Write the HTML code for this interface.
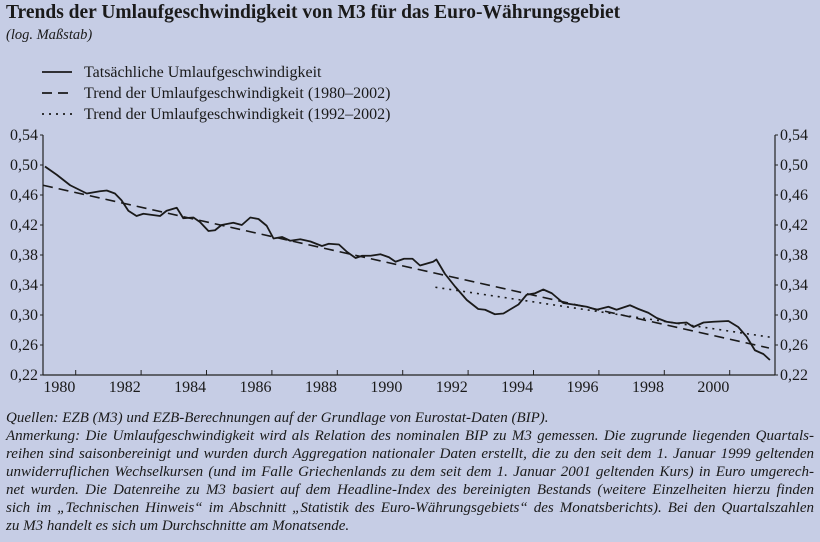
<!DOCTYPE html>
<html><head><meta charset="utf-8"><style>
body{margin:0;background:#c6cde5;}
#wrap{position:relative;width:820px;height:542px;background:#c6cde5;font-family:"Liberation Serif",serif;color:#1a1a1a;overflow:hidden}
.t{position:absolute;white-space:nowrap}
.fn{position:absolute;left:6px;width:808px;font-style:italic;font-size:15px;text-align:justify;text-align-last:justify;white-space:nowrap;line-height:17px}
.fn.l{text-align-last:left}
</style></head><body>
<div id="wrap">
<div class="t" style="left:6px;top:2px;font-size:19.5px;font-weight:bold">Trends der Umlaufgeschwindigkeit von M3 für das Euro-Währungsgebiet</div>
<div class="t" style="left:6px;top:27px;font-size:14.5px;font-style:italic">(log. Maßstab)</div>
<svg id="chart" width="820" height="410" style="position:absolute;left:0;top:0"></svg>
<div class="fn l" style="top:410px">Quellen: EZB (M3) und EZB-Berechnungen auf der Grundlage von Eurostat-Daten (BIP).</div>
<div class="fn" style="top:428px">Anmerkung: Die Umlaufgeschwindigkeit wird als Relation des nominalen BIP zu M3 gemessen. Die zugrunde liegenden Quartals-</div>
<div class="fn" style="top:446px">reihen sind saisonbereinigt und wurden durch Aggregation nationaler Daten erstellt, die zu den seit dem 1. Januar 1999 geltenden</div>
<div class="fn" style="top:464px">unwiderruflichen Wechselkursen (und im Falle Griechenlands zu dem seit dem 1. Januar 2001 geltenden Kurs) in Euro umgerech-</div>
<div class="fn" style="top:482px">net wurden. Die Datenreihe zu M3 basiert auf dem Headline-Index des bereinigten Bestands (weitere Einzelheiten hierzu finden</div>
<div class="fn" style="top:500px">sich im „Technischen Hinweis“ im Abschnitt „Statistik des Euro-Währungsgebiets“ des Monatsberichts). Bei den Quartalszahlen</div>
<div class="fn l" style="top:518px">zu M3 handelt es sich um Durchschnitte am Monatsende.</div>
</div>
<script>
const years=[1980,1982,1984,1986,1988,1990,1992,1994,1996,1998,2000];
const yTicks=[0.54,0.50,0.46,0.42,0.38,0.34,0.30,0.26,0.22];
const actualT=[1980.06,1980.42,1980.83,1981.34,1981.74,1981.95,1982.2,1982.4,1982.61,1982.86,1983.07,1983.58,1983.78,1984.09,1984.29,1984.6,1984.8,1985.06,1985.26,1985.46,1985.82,1986.08,1986.34,1986.59,1986.84,1987.05,1987.31,1987.56,1987.87,1988.18,1988.53,1988.74,1989.05,1989.3,1989.56,1989.76,1990.02,1990.32,1990.58,1990.78,1991.04,1991.3,1991.53,1991.93,1992.03,1992.29,1992.6,1992.96,1993.31,1993.52,1993.82,1994.08,1994.54,1994.79,1995.05,1995.3,1995.56,1995.91,1996.21,1996.63,1996.93,1997.29,1997.54,1997.95,1998.21,1998.51,1998.77,1999.07,1999.38,1999.68,1999.89,2000.2,2000.5,2000.96,2001.26,2001.52,2001.77,2002.03,2002.23];
const actualV=[0.498,0.487,0.473,0.462,0.465,0.466,0.462,0.453,0.439,0.432,0.435,0.432,0.439,0.443,0.429,0.430,0.424,0.412,0.413,0.420,0.423,0.420,0.430,0.428,0.419,0.402,0.404,0.399,0.401,0.398,0.392,0.395,0.394,0.384,0.376,0.379,0.379,0.381,0.377,0.371,0.375,0.375,0.366,0.371,0.374,0.355,0.338,0.320,0.308,0.307,0.301,0.302,0.314,0.327,0.329,0.334,0.329,0.316,0.314,0.311,0.307,0.311,0.307,0.313,0.308,0.303,0.296,0.291,0.289,0.290,0.284,0.290,0.291,0.292,0.284,0.271,0.253,0.248,0.240];
const trend1T=[1980.0,2002.2];
const trend1V=[0.473,0.256];
const trend2T=[1992.0,2002.3];
const trend2V=[0.337,0.270];
const legendLabels=["Tatsächliche Umlaufgeschwindigkeit","Trend der Umlaufgeschwindigkeit (1980–2002)","Trend der Umlaufgeschwindigkeit (1992–2002)"];

const NS="http://www.w3.org/2000/svg";
const svg=document.getElementById('chart');
const L=43,R=775,T=135,B=375;
const xS=t=>L+(t-1980)*32.7;
const yS=v=>T+(0.54-v)/(0.32)*(B-T);
function mk(tag,attrs,parent){const e=document.createElementNS(NS,tag);for(const k in attrs)e.setAttribute(k,attrs[k]);(parent||svg).appendChild(e);return e;}
const txtStyle='font-family:"Liberation Serif",serif;font-size:16px;fill:#1a1a1a';
let a=mk('line',{x1:L,y1:T,x2:L,y2:B,stroke:'#222','stroke-width':1.2});


a=mk('line',{x1:R,y1:T,x2:R,y2:B,stroke:'#222','stroke-width':1.2});


a=mk('line',{x1:L,y1:B,x2:R,y2:B,stroke:'#222','stroke-width':1.2});


yTicks.forEach(v=>{
  const y=yS(v);const lab=v.toFixed(2).replace('.',',');
  mk('line',{x1:L-3,y1:y,x2:L,y2:y,stroke:'#222'});
  mk('line',{x1:R,y1:y,x2:R+3,y2:y,stroke:'#222'});
  let t=mk('text',{x:L-5,y:y+5,'text-anchor':'end',style:txtStyle});t.textContent=lab;
  
  
  t=mk('text',{x:R+5,y:y+5,style:txtStyle});t.textContent=lab;
  
  
});
years.forEach(yr=>{
  const x=xS(yr+1);
  mk('line',{x1:x,y1:B,x2:x,y2:B-5,stroke:'#222'});
  const t=mk('text',{x:xS(yr+0.5),y:B+17,'text-anchor':'middle',style:txtStyle});t.textContent=yr;
  
  
});
function line(ts,vs,attrs,name){
  const p=mk('polyline',Object.assign({points:ts.map((t,i)=>xS(t)+','+yS(vs[i])).join(' '),fill:'none',stroke:'#1a1a1a'},attrs));
  
  
}
line(trend1T,trend1V,{'stroke-width':1.6,'stroke-dasharray':'10,6'},'trend-1980-2002-line');
line(trend2T,trend2V,{'stroke-width':1.6,'stroke-dasharray':'2,5'},'trend-1992-2002-line');
line(actualT,actualV,{'stroke-width':1.8,'stroke-linejoin':'round'},'actual-velocity-line');
const dashes=[null,'10,6','2,5'];
legendLabels.forEach((lab,i)=>{
  const y=72+i*21;
  const g=mk('g',{});
  
  
  const a={x1:42,y1:y,x2:72,y2:y,stroke:'#1a1a1a','stroke-width':1.8};
  if(dashes[i])a['stroke-dasharray']=dashes[i];
  mk('line',a,g);
  const t=mk('text',{x:84,y:y+5,style:txtStyle},g);t.textContent=lab;
});
</script>
</body></html>
